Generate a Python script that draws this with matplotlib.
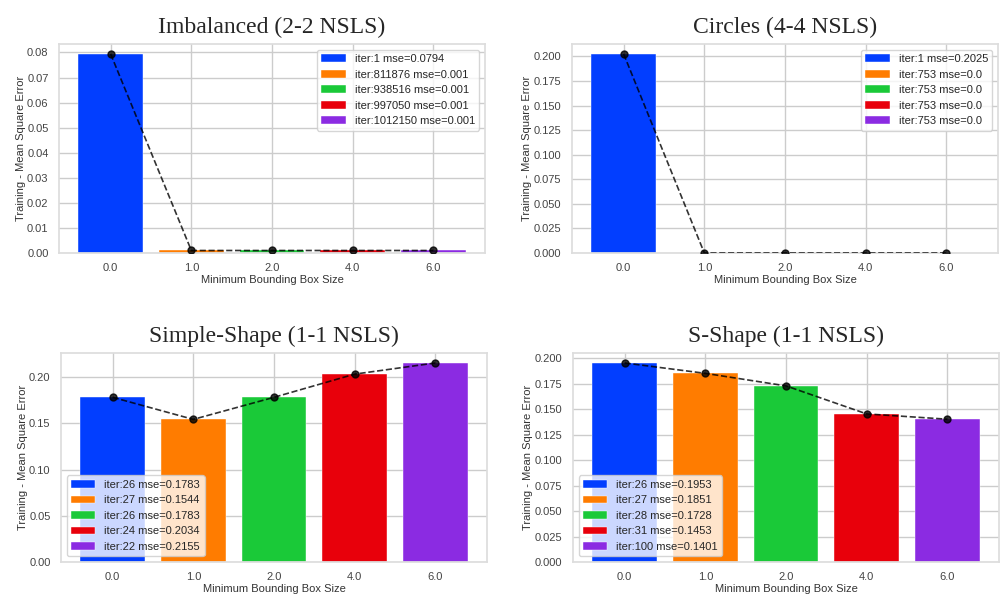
import numpy as np
import matplotlib
matplotlib.use("Agg")
import matplotlib.pyplot as plt
import seaborn as sns

# bounding box sizes (x categories)
box_sizes = ["0.0", "1.0", "2.0", "4.0", "6.0"]

imb_mse = [0.0794, 0.001, 0.001, 0.001, 0.001]
imb_iter = [1, 811876, 938516, 997050, 1012150]

circ_mse = [0.2025, 0.0, 0.0, 0.0, 0.0]
circ_iter = [1, 753, 753, 753, 753]

simple_mse = [0.1783, 0.1544, 0.1783, 0.2034, 0.2155]
simple_iter = [26, 27, 26, 24, 22]

sshape_mse = [0.1953, 0.1851, 0.1728, 0.1453, 0.1401]
sshape_iter = [26, 27, 28, 31, 100]

titles = ["Imbalanced (2-2 NSLS)", "Circles (4-4 NSLS)",
          "Simple-Shape (1-1 NSLS)", "S-Shape (1-1 NSLS)"]

sns.set_theme(style="whitegrid", palette="bright")
plt.rcParams["font.family"] = ["Liberation Sans", "DejaVu Sans"]
COLORS = sns.color_palette("bright", 5)


def draw_panel(ax, mse, iters, title, legend_loc):
    x = np.arange(len(box_sizes))
    for i in range(len(x)):
        ax.bar(x[i], mse[i], width=0.8, color=COLORS[i], edgecolor="white",
               linewidth=0.3, label=f"iter:{iters[i]} mse={mse[i]}")
    ax.plot(x, mse, "--", color="black", alpha=0.8, linewidth=1.2,
            marker="o", markersize=5, zorder=5)
    ax.set_xticks(x)
    ax.set_xticklabels(box_sizes)
    ax.tick_params(labelsize=8, colors="#444444", pad=1.5)
    ax.set_xlabel("Minimum Bounding Box Size", fontsize=8, color="#333333", labelpad=1)
    ax.set_ylabel("Training - Mean Square Error", fontsize=8, color="#333333", labelpad=1)
    ax.set_title(title, family=["Liberation Serif", "DejaVu Serif"], fontsize=17, pad=8)
    ax.legend(loc=legend_loc, fontsize=8, handlelength=2.2)
    for sp in ax.spines.values():
        sp.set_color("#dddddd")


fig = plt.figure(figsize=(10.01, 5.96), dpi=100)
W, H = 1001, 596
boxes = [(59, 44), (572, 44), (61, 353), (573, 353)]
data = [(imb_mse, imb_iter), (circ_mse, circ_iter),
        (simple_mse, simple_iter), (sshape_mse, sshape_iter)]
locs = ["upper right", "upper right", "lower left", "lower left"]

for (px, py), (mse, iters), t, loc in zip(boxes, data, titles, locs):
    ax = fig.add_axes([px / W, 1 - (py + 209) / H, 426 / W, 209 / H])
    draw_panel(ax, mse, iters, t, loc)

fig.savefig("out.png", dpi=100)
